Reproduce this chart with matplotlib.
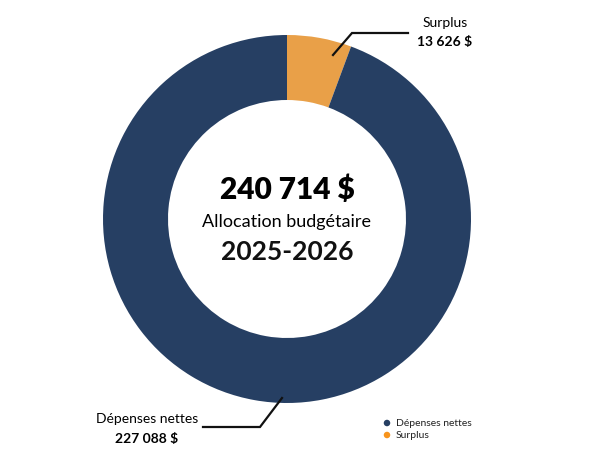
import matplotlib
matplotlib.use('Agg')
import matplotlib.pyplot as plt

plt.rcParams['font.family'] = ['Lato', 'DejaVu Sans']

# data
labels = ['Surplus', 'Dépenses nettes']
values = [13626, 227088]
value_labels = ['13 626 $', '227 088 $']
total_label = '240 714 $'
center_sub = 'Allocation budgétaire'
center_year = '2025-2026'

NAVY = '#263f63'
ORANGE = '#e9a048'
colors = [ORANGE, NAVY]

W, H = 592, 465
fig = plt.figure(figsize=(W / 100, H / 100), dpi=100)
ax = fig.add_axes([0, 0, 1, 1])

cx, cy = 287, H - 219
R = 184
wedges, _ = ax.pie(values, colors=colors, startangle=90, counterclock=False,
                   radius=R, center=(cx, cy), frame=True,
                   wedgeprops=dict(width=65, linewidth=0))
ax.set_xlim(0, W)
ax.set_ylim(0, H)
ax.set_aspect('equal')
ax.axis('off')

# centre text
ax.text(cx, H - 190, total_label, ha='center', va='center',
        fontsize=21.5, fontweight='heavy', color='black')
ax.text(cx, H - 222, center_sub, ha='center', va='center',
        fontsize=13, color='black')
ax.text(cx, H - 252, center_year, ha='center', va='center',
        fontsize=19, fontweight='bold', color='#111111')

# leader lines
ax.plot([333, 352, 408], [H - 55, H - 33, H - 33], color='#111111', lw=1.6,
        solid_joinstyle='miter')
ax.plot([282, 260, 203], [H - 398, H - 427, H - 427], color='#111111', lw=1.6,
        solid_joinstyle='miter')

ax.text(445, H - 23, labels[0], ha='center', va='center', fontsize=10)
ax.text(445, H - 42, value_labels[0], ha='center', va='center', fontsize=10,
        fontweight='bold')
ax.text(147, H - 419, labels[1], ha='center', va='center', fontsize=10)
ax.text(147, H - 439, value_labels[1], ha='center', va='center', fontsize=10,
        fontweight='bold')

# legend
leg_colors = [NAVY, '#f7941d']
for i, (lab, c) in enumerate(zip([labels[1], labels[0]], leg_colors)):
    y = H - (423 + 12 * i)
    ax.scatter([387], [y], s=22, color=c, edgecolors='none')
    ax.text(396, y, lab, ha='left', va='center', fontsize=7.5, color='#222222')

fig.savefig('out.png', dpi=100, facecolor='white')
